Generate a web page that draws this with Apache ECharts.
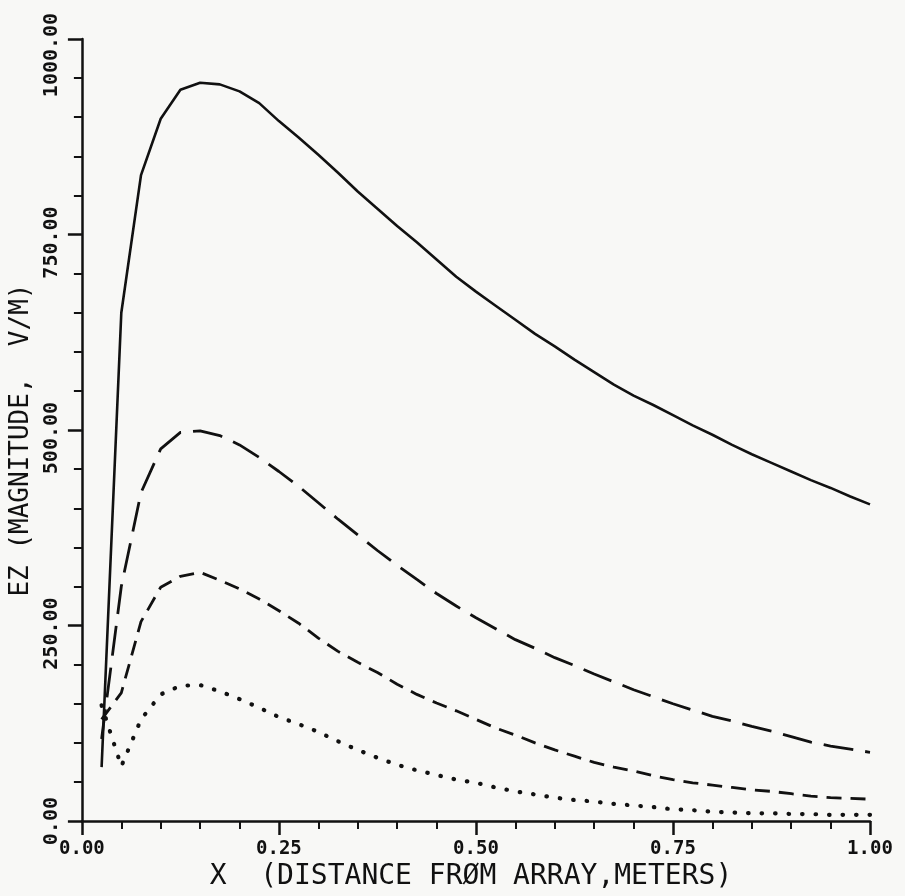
<!DOCTYPE html>
<html>
<head>
<meta charset="utf-8">
<title>EZ magnitude vs distance</title>
<script src="https://cdn.jsdelivr.net/npm/echarts@6/dist/echarts.min.js"></script>
<style>
    html, body { margin: 0; padding: 0; background: #f8f8f6; }
    #chart { width: 905px; height: 896px; }
</style>
</head>
<body>
<div id="chart"></div>
<script>
// distance from array (m)
var xs = [0.025, 0.05, 0.075, 0.1, 0.125, 0.15, 0.175, 0.2, 0.225, 0.25,
          0.275, 0.3, 0.325, 0.35, 0.375, 0.4, 0.425, 0.45, 0.475, 0.5,
          0.525, 0.55, 0.575, 0.6, 0.625, 0.65, 0.675, 0.7, 0.725, 0.75,
          0.775, 0.8, 0.825, 0.85, 0.875, 0.9, 0.925, 0.95, 0.975, 1.0];

// EZ magnitude (V/M), one array per curve
var solid = [69, 650, 826, 898, 935, 944, 942, 933, 918, 895,
             874, 852, 829, 805, 783, 761, 740, 718, 696, 677,
             659, 641, 623, 607, 590, 574, 558, 544, 532, 519,
             506, 494, 481, 469, 458, 447, 436, 426, 415, 405];
var longDash = [105, 300, 420, 476, 497, 499, 493, 481, 465, 447,
                428, 407, 386, 366, 346, 327, 309, 291, 275, 260,
                246, 232, 221, 209, 199, 188, 178, 168, 159, 150,
                142, 134, 128, 121, 115, 108, 101, 96, 92, 88];
var shortDash = [130, 164, 255, 299, 313, 318, 308, 297, 284, 269,
                 253, 234, 217, 203, 190, 175, 162, 151, 141, 130,
                 119, 110, 100, 91, 83, 75, 69, 64, 58, 53,
                 49, 46, 43, 40, 38, 35, 32, 30, 29, 28];
var dotted = [148, 70, 130, 162, 173, 174, 166, 156, 145, 133,
              124, 114, 102, 91, 81, 72, 65, 59, 53, 49,
              43, 38, 34, 30, 27, 25, 22, 20, 18, 15,
              14, 12, 11, 10, 10, 9, 9, 8, 8, 8];

var xTicks = [0, 0.25, 0.5, 0.75, 1];
var yTicks = [0, 250, 500, 750, 1000];

var ink = '#111111',
    mono = '"DejaVu Sans Mono", "Liberation Mono", monospace';

function pairs(ys) {
    var out = [];
    for (var i = 0; i < xs.length; i++) {
        out.push([xs[i], ys[i]]);
    }
    return out;
}

function curve(name, ys, type, width, cap) {
    return {
        name: name,
        type: 'line',
        data: pairs(ys),
        showSymbol: false,
        smooth: false,
        silent: true,
        lineStyle: { color: ink, width: width, type: type, cap: cap || 'butt' }
    };
}

var chart = echarts.init(document.getElementById('chart'));

var option = {
    backgroundColor: '#f8f8f6',
    animation: false,
    grid: { left: 80, right: 35, top: 39, bottom: 70 },
    xAxis: {
        type: 'value',
        min: 0,
        max: 1,
        interval: 0.25,
        name: 'X  (DISTANCE FRØM ARRAY,METERS)',
        nameLocation: 'middle',
        nameGap: 38,
        nameTextStyle: { color: ink, fontFamily: mono, fontSize: 28, padding: [0, 10, 0, 0] },
        axisLine: { show: true, lineStyle: { color: ink, width: 2.5 } },
        axisTick: { show: true, length: 14, lineStyle: { color: ink, width: 2.5 } },
        minorTick: { show: true, splitNumber: 5, length: 8, lineStyle: { color: ink, width: 2 } },
        splitLine: { show: false },
        axisLabel: {
            color: ink,
            fontFamily: mono,
            fontWeight: 'bold',
            fontSize: 19,
            margin: 18,
            formatter: function (v) {
                return xTicks.indexOf(v) >= 0 ? v.toFixed(2) : '';
            }
        }
    },
    yAxis: {
        type: 'value',
        min: 0,
        max: 1000,
        interval: 250,
        name: 'EZ (MAGNITUDE,  V/M)',
        nameLocation: 'middle',
        nameGap: 46,
        nameRotate: 90,
        nameTextStyle: { color: ink, fontFamily: mono, fontSize: 26, padding: [0, 20, 0, 0] },
        axisLine: { show: true, lineStyle: { color: ink, width: 2.5 } },
        axisTick: { show: true, length: 14, lineStyle: { color: ink, width: 2.5 } },
        minorTick: { show: true, splitNumber: 5, length: 8, lineStyle: { color: ink, width: 2 } },
        splitLine: { show: false },
        axisLabel: {
            color: ink,
            fontFamily: mono,
            fontWeight: 'bold',
            fontSize: 20,
            rotate: 90,
            margin: 20,
            formatter: function (v) {
                if (yTicks.indexOf(v) < 0) return '';
                if (v === 1000) return '{top|' + v.toFixed(2) + '}';
                if (v === 0) return '{zero|' + v.toFixed(2) + '}';
                return '{mid|' + v.toFixed(2) + '}';
            },
            rich: {
                top: { fontFamily: mono, fontWeight: 'bold', fontSize: 20, color: ink, padding: [0, 32, 0, 0] },
                mid: { fontFamily: mono, fontWeight: 'bold', fontSize: 20, color: ink, padding: [0, 16, 0, 0] },
                zero: { fontFamily: mono, fontWeight: 'bold', fontSize: 20, color: ink }
            }
        }
    },
    series: [
        curve('solid', solid, 'solid', 2.6),
        curve('long dash', longDash, [30, 12], 2.8),
        curve('short dash', shortDash, [15, 9], 2.8),
        curve('dotted', dotted, [0.5, 13], 4.2, 'round')
    ]
};

chart.setOption(option);
</script>
</body>
</html>
